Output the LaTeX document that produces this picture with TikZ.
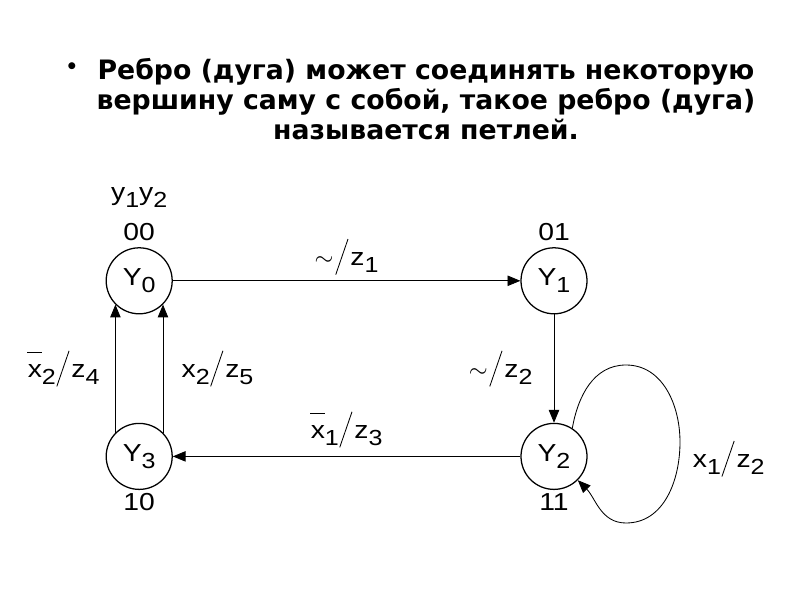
\documentclass[tikz,border=0pt]{standalone}
\usepackage{fontspec}
\setmainfont{Liberation Sans}[FakeStretch=1.15]
\newfontfamily\titlefont{DejaVu Sans}
\usepackage{graphicx}
\usetikzlibrary{arrows.meta,positioning}

\newcommand{\lo}[1]{\raisebox{-0.3em}{\fontsize{15.5pt}{15.5pt}\selectfont #1}}
\newcommand{\tslash}{\kern0.02em\raisebox{-0.37em}{\rotatebox{-19}{\rule{0.6pt}{1.53em}}}\kern0.08em}
\newcommand{\xbar}{\rlap{\kern-0.03em\rule[1.0em]{0.62em}{0.6pt}}x}
\newcommand{\tld}{$\sim$\kern0.05em}

\begin{document}
\begin{tikzpicture}[
  state/.style={circle,draw,line width=0.9pt,minimum size=1.65cm,inner sep=0pt,
    font=\fontsize{17.5pt}{20pt}\selectfont},
  trans/.style={line width=0.6pt,-{Triangle[length=3.2mm,width=2.6mm]}},
  txt/.style={font=\fontsize{17.5pt}{20pt}\selectfont,inner sep=1pt},
  head/.style={font=\titlefont\bfseries\fontsize{19pt}{21.3pt}\selectfont,inner sep=0pt}
]
\useasboundingbox (0,0) rectangle (20,15);

% Heading
\node[head,anchor=north,align=center] (title) at (10.65,13.55)
  {Ребро (дуга) может соединять некоторую\\ вершину саму с собой, такое ребро (дуга)\\ называется петлей.};
\node[font=\titlefont\bfseries\fontsize{14pt}{14pt}\selectfont,inner sep=0pt] (dot) at (1.8,13.3) {•};

% States
\node[state] (Y0) at (3.48,7.98) {Y\lo{0}};
\node[state] (Y1) at (13.85,7.98) {Y\lo{1}};
\node[state] (Y2) at (13.85,3.59) {Y\lo{2}};
\node[state] (Y3) at (3.48,3.59) {Y\lo{3}};

% State codes
\node[txt,above=0.12cm of Y0] (c00) {00};
\node[txt,above=0.3cm of c00] (y12) {y\lo{1}y\lo{2}};
\node[txt,above=0.12cm of Y1] (c01) {01};
\node[txt,below=0.05cm of Y3] (c10) {10};
\node[txt,below=0.05cm of Y2] (c11) {11};

% Transitions
\draw[trans] (Y0) -- node[txt,above=3pt] (l1) {\tld\tslash z\lo{1}} (Y1);
\draw[trans] (Y1) -- node[txt,left=14pt] (l2) {\tld\tslash z\lo{2}} (Y2);
\draw[trans] (Y2) -- node[txt,above=5pt] (l3) {\xbar\lo{1}\tslash z\lo{3}} (Y3);
\draw[trans] (Y3.135) -- node[txt,left=10pt] (l4) {\xbar\lo{2}\tslash z\lo{4}} (Y0.225);
\draw[trans] (Y3.45) -- node[txt,right=12pt] (l5) {x\lo{2}\tslash z\lo{5}} (Y0.315);

% Loop
\coordinate (lt) at (15.65,5.875);
\coordinate (lr) at (17.0,3.95);
\coordinate (lb) at (15.65,1.925);
\draw[trans] (Y2.57) to[out=80,in=180] (lt) to[out=0,in=90] (lr)
  to[out=-90,in=0] (lb) to[out=180,in=-45] (Y2.-45);
\node[txt,right=8pt of lr,yshift=-0.42cm] (l6) {x\lo{1}\tslash z\lo{2}};
\end{tikzpicture}
\end{document}
